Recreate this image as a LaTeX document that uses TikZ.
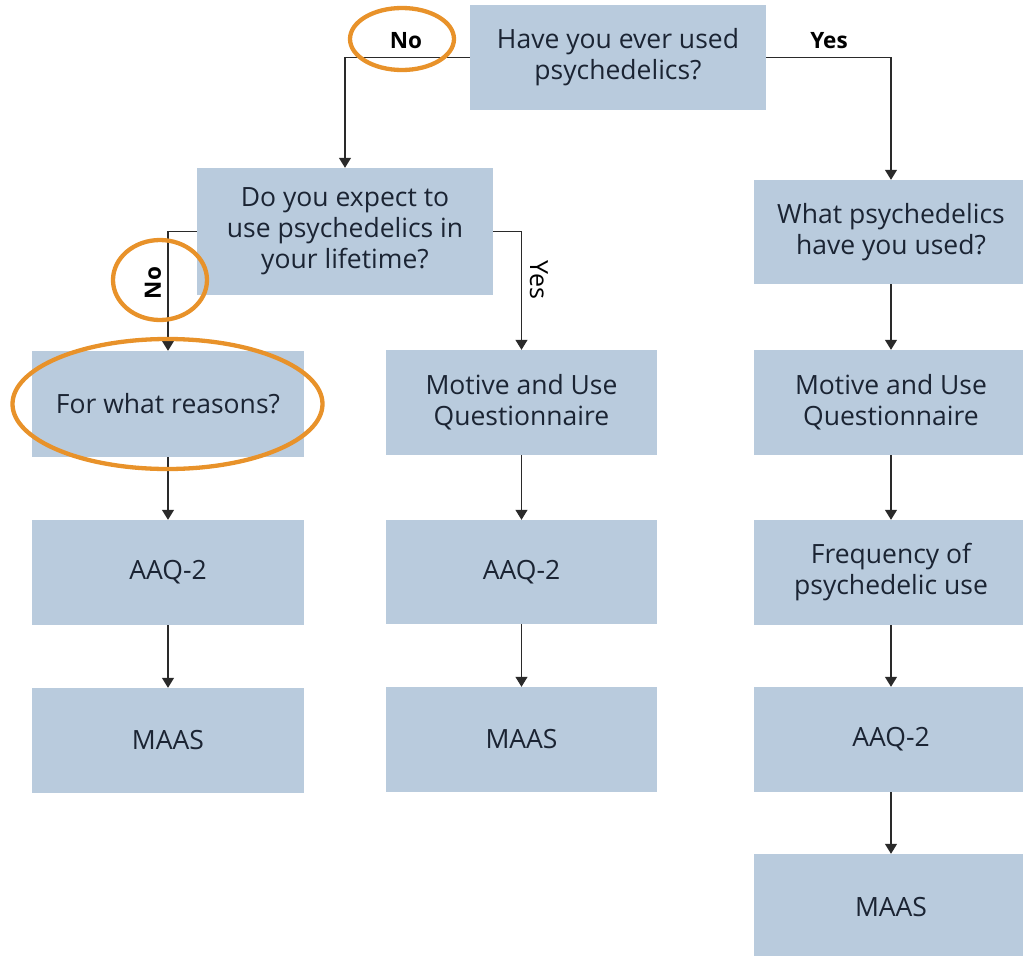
\documentclass[tikz,border=0pt]{standalone}
\usepackage{fontspec}
\setmainfont{Open Sans}
\usetikzlibrary{arrows.meta}
\definecolor{boxfill}{HTML}{B9CBDD}
\definecolor{txt}{HTML}{1B2433}
\definecolor{ring}{HTML}{E8922A}
\definecolor{conn}{HTML}{2A2A2A}
\begin{document}
\begin{tikzpicture}[x=1pt,y=-1pt,
  qbox/.style={rectangle,fill=boxfill,text=txt,align=center,inner sep=0pt,
    font=\fontsize{26.5}{31}\selectfont},
  conn/.style={draw=conn,line width=1.2pt,-{Triangle[width=12pt,length=10pt]}},
  lbl/.style={font=\bfseries\fontsize{22.5}{26}\selectfont,text=black},
  ringst/.style={draw=ring,line width=4.3pt}]
\useasboundingbox (0,0) rectangle (1023,956);
% boxes
\node[qbox,minimum width=296pt,minimum height=105pt] (q1) at (618,57.5) {Have you ever used\\psychedelics?};
\node[qbox,minimum width=296pt,minimum height=127pt] (q2) at (345,231.5) {Do you expect to\\use psychedelics in\\your lifetime?};
\node[qbox,minimum width=274pt,minimum height=104pt] (q3) at (891,232) {What psychedelics\\have you used?};
% left column
\node[qbox,minimum width=272pt,minimum height=106pt] (l1) at (168,404) {For what reasons?};
\node[qbox,minimum width=272pt,minimum height=105pt] (l2) at (168,572.5) {AAQ-2};
\node[qbox,minimum width=272pt,minimum height=105pt] (l3) at (168,740.5) {MAAS};
% middle column
\node[qbox,minimum width=271pt,minimum height=105pt] (m1) at (521.5,402.5) {Motive and Use\\Questionnaire};
\node[qbox,minimum width=271pt,minimum height=104pt] (m2) at (521.5,572) {AAQ-2};
\node[qbox,minimum width=271pt,minimum height=105pt] (m3) at (521.5,739.5) {MAAS};
% right column
\node[qbox,minimum width=274pt,minimum height=105pt] (r1) at (891,402.5) {Motive and Use\\Questionnaire};
\node[qbox,minimum width=274pt,minimum height=105pt] (r2) at (891,572.5) {Frequency of\\psychedelic use};
\node[qbox,minimum width=274pt,minimum height=105pt] (r3) at (891,739.5) {AAQ-2};
\node[qbox,minimum width=274pt,minimum height=106pt] (r4) at (891,907) {MAAS};
% connectors
\draw[conn] (q1.west) -| (q2.north);
\draw[conn] (q1.east) -| (q3.north);
\draw[conn] (q2.west) -| (l1.north);
\draw[conn] (q2.east) -| (m1.north);
\draw[conn] (l1) -- (l2);
\draw[conn] (l2) -- (l3);
\draw[conn] (m1) -- (m2);
\draw[conn] (m2) -- (m3);
\draw[conn] (q3) -- (r1);
\draw[conn] (r1) -- (r2);
\draw[conn] (r2) -- (r3);
\draw[conn] (r3) -- (r4);
% labels
\node[lbl] (noA) at (406,41) {No};
\node[lbl] (yesA) at (829,41) {Yes};
\node[lbl,rotate=90] (noB) at (153,283) {No};
\node[lbl,rotate=-90,font=\fontsize{25}{28}\selectfont] (yesB) at (539,280) {Yes};
% highlight rings
\draw[ringst] (402,39) ellipse [x radius=52, y radius=31];
\draw[ringst] (160,280) ellipse [x radius=47, y radius=40];
\draw[ringst] (167.5,404) ellipse [x radius=155, y radius=65];
\end{tikzpicture}
\end{document}
